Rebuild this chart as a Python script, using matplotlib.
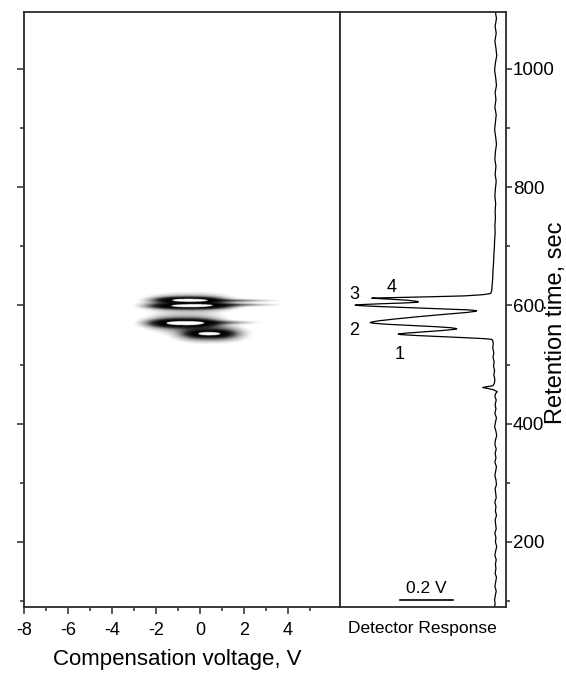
import numpy as np
import matplotlib
matplotlib.use("Agg")
import matplotlib.pyplot as plt
from matplotlib.colors import LinearSegmentedColormap
from matplotlib.ticker import MultipleLocator

plt.rcParams['font.family'] = ['Liberation Sans', 'DejaVu Sans']
plt.rcParams['axes.unicode_minus'] = False

# components of the CV / retention time map:
# cores of the four compounds, their broader wings, and the streaks to the right
spot_cv = [-0.56, -0.45, -0.77, 0.43,    -0.45, -0.7, 0.45,    1.4, 1.5, 1.0]
spot_time = [609, 599, 570, 552,         604, 570, 552,        608, 601, 571]
spot_cv_width = [0.96, 1.2, 1.0, 0.65,   1.25, 1.15, 1.0,      1.1, 1.1, 0.9]
spot_time_width = [3.0, 3.0, 4.0, 3.5,   9.0, 8.5, 7.5,        1.6, 1.6, 2.0]
spot_height = [0.8, 0.8, 0.8, 0.6,       0.3, 0.3, 0.42,       0.22, 0.22, 0.18]
spot_cv_power = [2.6, 2.6, 2.6, 2.6,     2.6, 2.6, 2.6,        2, 2, 2]

# detector response trace (retention time in s, response in V)
base_top_time = [1096, 1085, 1072, 1060, 1047, 1035, 1022, 1010, 998, 985,
                 972, 960, 948, 935, 922, 910, 897, 885, 872, 860,
                 847, 835, 822, 810, 797, 785, 772, 760, 747, 735,
                 722, 710, 697, 685, 672, 660, 647, 635, 625]
base_top_resp = [0.002, -0.002, 0.003, -0.001, 0.004, 0.000, -0.003, 0.002, 0.005, 0.001,
                 -0.002, 0.003, 0.000, 0.004, -0.001, 0.002, 0.005, 0.001, -0.002, 0.002,
                 0.004, 0.000, 0.003, -0.001, 0.002, 0.004, 0.001, 0.003, 0.002, 0.004,
                 0.003, 0.005, 0.006, 0.008, 0.009, 0.011, 0.012, 0.014, 0.016]

peaks_time = [620, 618, 616, 614.5, 613.3, 612.6, 612.2, 611.6, 610.5, 608.5,
              606.8, 605.9, 605.1, 604, 602.6, 601.3, 600.3, 599.4, 598, 596,
              594, 592.4, 591.3, 590.7, 590, 588, 585, 581, 577, 574,
              572, 570.9, 569.8, 568, 566, 564, 562.2, 561, 560.3, 559.5,
              557.6, 555, 553, 551.9, 551.3, 550.6, 549, 547, 545, 543.6, 542.4]
peaks_resp = [0.02, 0.05, 0.12, 0.25, 0.38, 0.44, 0.469, 0.45, 0.40, 0.33,
              0.298, 0.293, 0.30, 0.35, 0.44, 0.51, 0.532, 0.51, 0.44, 0.32,
              0.19, 0.105, 0.078, 0.073, 0.076, 0.11, 0.19, 0.29, 0.38, 0.44,
              0.468, 0.475, 0.465, 0.41, 0.32, 0.23, 0.17, 0.152, 0.148, 0.155,
              0.20, 0.28, 0.34, 0.363, 0.369, 0.36, 0.30, 0.20, 0.10, 0.04, 0.015]

base_low_time = [540, 535, 528, 520, 512, 505, 497, 490, 482, 475,
                 468, 464, 462.5, 461, 459.5, 457, 454, 451, 446, 440,
                 432, 425, 417, 410, 402, 395, 387, 380, 372, 365,
                 357, 350, 342, 335, 327, 320, 312, 305, 297, 290,
                 282, 275, 267, 260, 252, 245, 237, 230, 222, 215,
                 207, 200, 192, 185, 177, 170, 162, 155, 147, 140,
                 132, 125, 117, 110, 102, 95, 90]
base_low_resp = [0.012, 0.010, 0.012, 0.008, 0.011, 0.007, 0.009, 0.005, 0.008, 0.004,
                 0.006, 0.012, 0.035, 0.050, 0.030, 0.008, -0.005, 0.001, 0.004, -0.001,
                 0.003, 0.000, 0.004, -0.002, 0.002, 0.005, 0.000, -0.003, 0.002, 0.004,
                 -0.001, 0.003, 0.000, 0.004, -0.002, 0.001, 0.004, 0.000, -0.002, 0.003,
                 0.001, -0.001, 0.004, 0.000, 0.002, -0.002, 0.003, 0.001, -0.001, 0.004,
                 0.000, 0.002, -0.003, 0.001, 0.004, -0.001, 0.002, 0.000, 0.003, -0.002,
                 0.001, 0.004, -0.001, 0.002, 0.005, 0.003, 0.006]

peak_labels = ['1', '2', '3', '4']
label_time = [517, 557, 619, 631]
label_resp = [0.362, 0.536, 0.536, 0.394]

cv_range = (-8, 6.36)
time_range = (90, 1096)
resp_range = (0.589, -0.038)
scale_bar = 0.2

frame_color = '#2b2b2b'

fig = plt.figure(figsize=(5.66, 6.74), dpi=100)
ax1 = fig.add_axes([24 / 566, 67 / 674, 316 / 566, 595 / 674])
ax2 = fig.add_axes([340 / 566, 67 / 674, 166 / 566, 595 / 674])

# intensity map
cv = np.linspace(cv_range[0], cv_range[1], 900)
tt = np.linspace(time_range[0], time_range[1], 3000)
CV, TT = np.meshgrid(cv, tt)
field = np.zeros_like(CV)
for c, t, sc, st, h, p in zip(spot_cv, spot_time, spot_cv_width, spot_time_width,
                              spot_height, spot_cv_power):
    field += h * np.exp(-0.5 * np.abs((CV - c) / sc) ** p - 0.5 * ((TT - t) / st) ** 2)

# grey scale that turns white again where the signal saturates
cmap = LinearSegmentedColormap.from_list(
    'ims', [(0, 'white'), (0.02, 'white'), (0.08, '#d0d0d0'), (0.2, '#808080'),
            (0.35, '#303030'), (0.55, '#080808'), (0.87, 'black'), (0.88, 'white'),
            (1, 'white')])
ax1.imshow(field, extent=[cv_range[0], cv_range[1], time_range[0], time_range[1]],
           origin='lower', aspect='auto', cmap=cmap, vmin=0, vmax=1,
           interpolation='bilinear')
ax1.set_xlim(*cv_range)
ax1.set_ylim(*time_range)
ax1.set_xticks(range(-8, 5, 2))
ax1.set_xticks([-7, -5, -3, -1, 1, 3, 5], minor=True)
ax1.yaxis.set_major_locator(MultipleLocator(200))
ax1.yaxis.set_minor_locator(MultipleLocator(100))
ax1.tick_params(which='both', direction='out', color=frame_color, width=1.1,
                labelleft=False, labelsize=13, pad=5.5)
ax1.tick_params(which='major', length=5)
ax1.tick_params(which='minor', length=3)

# detector trace
trace_time = base_top_time + peaks_time + base_low_time
trace_resp = base_top_resp + peaks_resp + base_low_resp
ax2.plot(trace_resp, trace_time, color='black', lw=0.9)
ax2.set_xlim(*resp_range)
ax2.set_ylim(*time_range)
ax2.set_xticks([])
ax2.yaxis.tick_right()
ax2.yaxis.set_major_locator(MultipleLocator(200))
ax2.yaxis.set_minor_locator(MultipleLocator(100))
ax2.tick_params(which='both', direction='out', color=frame_color, width=1.1,
                labelsize=13.5, pad=1)
ax2.tick_params(which='major', length=4)
ax2.tick_params(which='minor', length=3)

for lab, t, r in zip(peak_labels, label_time, label_resp):
    ax2.text(r, t, lab, fontsize=13, ha='center', va='center')

# 0.2 V scale bar
bar_left = 0.362
ax2.plot([bar_left, bar_left - scale_bar], [102, 102], color='black', lw=1.2)
ax2.text(bar_left - scale_bar / 2, 121, '0.2 V', fontsize=12.5, ha='center', va='center')

for ax in (ax1, ax2):
    for sp in ax.spines.values():
        sp.set_color(frame_color)
        sp.set_linewidth(1.3)

fig.text(177 / 566, 1 - 660 / 674, 'Compensation voltage, V', fontsize=16,
         ha='center', va='center')
fig.text(422.5 / 566, 1 - 629 / 674, 'Detector Response', fontsize=12.5,
         ha='center', va='center')
fig.text(556 / 566, 1 - 323 / 674, 'Retention time, sec', fontsize=17,
         ha='center', va='center', rotation=90)

fig.savefig('out.png', dpi=100)
